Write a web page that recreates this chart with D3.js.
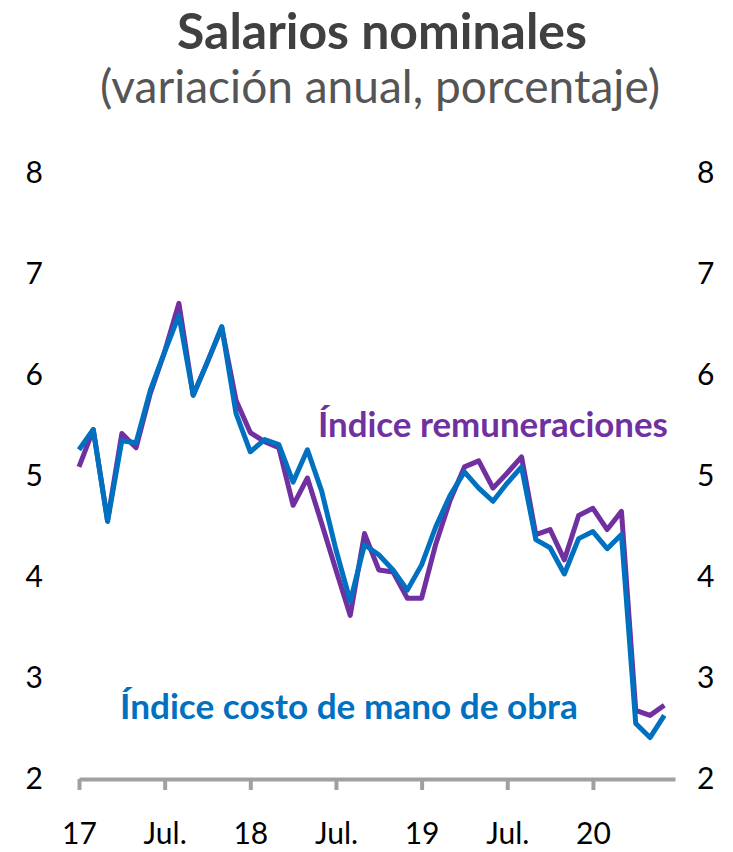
<!DOCTYPE html>
<html>
<head>
<meta charset="utf-8">
<script src="https://cdn.jsdelivr.net/npm/d3@7"></script>
<style>
	body { margin: 0; background: white; }
	text { font-family: Lato, "Open Sans", sans-serif; }
</style>
</head>
<body>
<script>
// monthly, Jan 2017 - Jun 2020
const months = [
	"ene-17","feb-17","mar-17","abr-17","may-17","jun-17","jul-17","ago-17","sep-17","oct-17","nov-17","dic-17",
	"ene-18","feb-18","mar-18","abr-18","may-18","jun-18","jul-18","ago-18","sep-18","oct-18","nov-18","dic-18",
	"ene-19","feb-19","mar-19","abr-19","may-19","jun-19","jul-19","ago-19","sep-19","oct-19","nov-19","dic-19",
	"ene-20","feb-20","mar-20","abr-20","may-20","jun-20"
];

const remuneraciones = [
	5.09, 5.46, 4.56, 5.42, 5.28, 5.82, 6.23, 6.71, 5.80, 6.13, 6.47, 5.75,
	5.43, 5.34, 5.28, 4.71, 4.98, 4.53, 4.07, 3.62, 4.43, 4.07, 4.05, 3.79,
	3.79, 4.33, 4.76, 5.09, 5.15, 4.88, 5.03, 5.19, 4.42, 4.47, 4.17, 4.61,
	4.68, 4.47, 4.65, 2.68, 2.63, 2.73
];

const costoManoObra = [
	5.26, 5.46, 4.55, 5.35, 5.33, 5.85, 6.23, 6.59, 5.80, 6.13, 6.48, 5.62,
	5.24, 5.36, 5.31, 4.94, 5.26, 4.85, 4.27, 3.76, 4.32, 4.22, 4.07, 3.87,
	4.12, 4.50, 4.81, 5.04, 4.88, 4.75, 4.93, 5.09, 4.37, 4.29, 4.03, 4.38,
	4.45, 4.28, 4.42, 2.55, 2.41, 2.63
];

const xTickIndex = [0, 6, 12, 18, 24, 30, 36];
const xTickLabels = ["17", "Jul.", "18", "Jul.", "19", "Jul.", "20"];
const yTicks = [2, 3, 4, 5, 6, 7, 8];

function init(){
	const svg = d3.select("body").append("svg")
		.attr("width", 733)
		.attr("height", 852);

	const x = d3.scaleLinear()
		.domain([0, 41.75])
		.range([79, 675]);

	const y = d3.scaleLinear()
		.domain([2, 8])
		.range([779, 173]);

	// scale a text's font so it spans the given width
	function fit(t, w){
		const fs = parseFloat(t.attr("font-size"));
		const len = t.node().getComputedTextLength();
		t.attr("font-size", (fs * w / len).toFixed(2) + "px");
	}

	const title = svg.append("text")
		.attr("x", 382)
		.attr("y", 49)
		.attr("text-anchor", "middle")
		.attr("font-size", "40px")
		.attr("font-weight", "bold")
		.attr("fill", "#404040")
		.text("Salarios nominales");
	fit(title, 410);

	const subtitle = svg.append("text")
		.attr("x", 380)
		.attr("y", 103)
		.attr("text-anchor", "middle")
		.attr("font-size", "36px")
		.attr("fill", "#555555")
		.text("(variación anual, porcentaje)");
	fit(subtitle, 560);

	// y labels, both sides
	const yLeft = svg.append("g")
		.attr("transform", "translate(79,0)")
		.call(d3.axisLeft(y).tickValues(yTicks).tickSize(0).tickPadding(36).tickFormat(d3.format("d")));
	const yRight = svg.append("g")
		.attr("transform", "translate(675,0)")
		.call(d3.axisRight(y).tickValues(yTicks).tickSize(0).tickPadding(22).tickFormat(d3.format("d")));
	[yLeft, yRight].forEach(g => {
		g.select(".domain").remove();
		g.selectAll("text")
			.attr("font-size", "30px")
			.attr("font-family", "Lato, sans-serif")
			.attr("fill", "black");
	});

	// x axis
	const xAxis = svg.append("g")
		.attr("transform", "translate(0,779)")
		.call(d3.axisBottom(x)
			.tickValues(xTickIndex)
			.tickSize(11)
			.tickSizeOuter(0)
			.tickPadding(33)
			.tickFormat((d, i) => xTickLabels[i]));
	xAxis.select(".domain")
		.attr("stroke", "#a0a0a0")
		.attr("stroke-width", 4);
	xAxis.selectAll(".tick line")
		.attr("stroke", "#a0a0a0")
		.attr("stroke-width", 4);
	xAxis.selectAll("text")
		.attr("font-size", "30px")
		.attr("font-family", "Lato, sans-serif")
		.attr("fill", "black");

	const line = d3.line()
		.x((d, i) => x(i))
		.y(d => y(d));

	svg.append("path")
		.datum(remuneraciones)
		.attr("fill", "none")
		.attr("stroke", "#7030a0")
		.attr("stroke-width", 5)
		.attr("stroke-linejoin", "round")
		.attr("d", line);

	svg.append("path")
		.datum(costoManoObra)
		.attr("fill", "none")
		.attr("stroke", "#0070c0")
		.attr("stroke-width", 5)
		.attr("stroke-linejoin", "round")
		.attr("d", line);

	const lab1 = svg.append("text")
		.attr("x", 318)
		.attr("y", 437)
		.attr("font-size", "30px")
		.attr("font-weight", "bold")
		.attr("fill", "#7030a0")
		.text("Índice remuneraciones");
	fit(lab1, 350);

	const lab2 = svg.append("text")
		.attr("x", 120)
		.attr("y", 719)
		.attr("font-size", "30px")
		.attr("font-weight", "bold")
		.attr("fill", "#0070c0")
		.text("Índice costo de mano de obra");
	fit(lab2, 458);
}

init();
</script>
</body>
</html>
